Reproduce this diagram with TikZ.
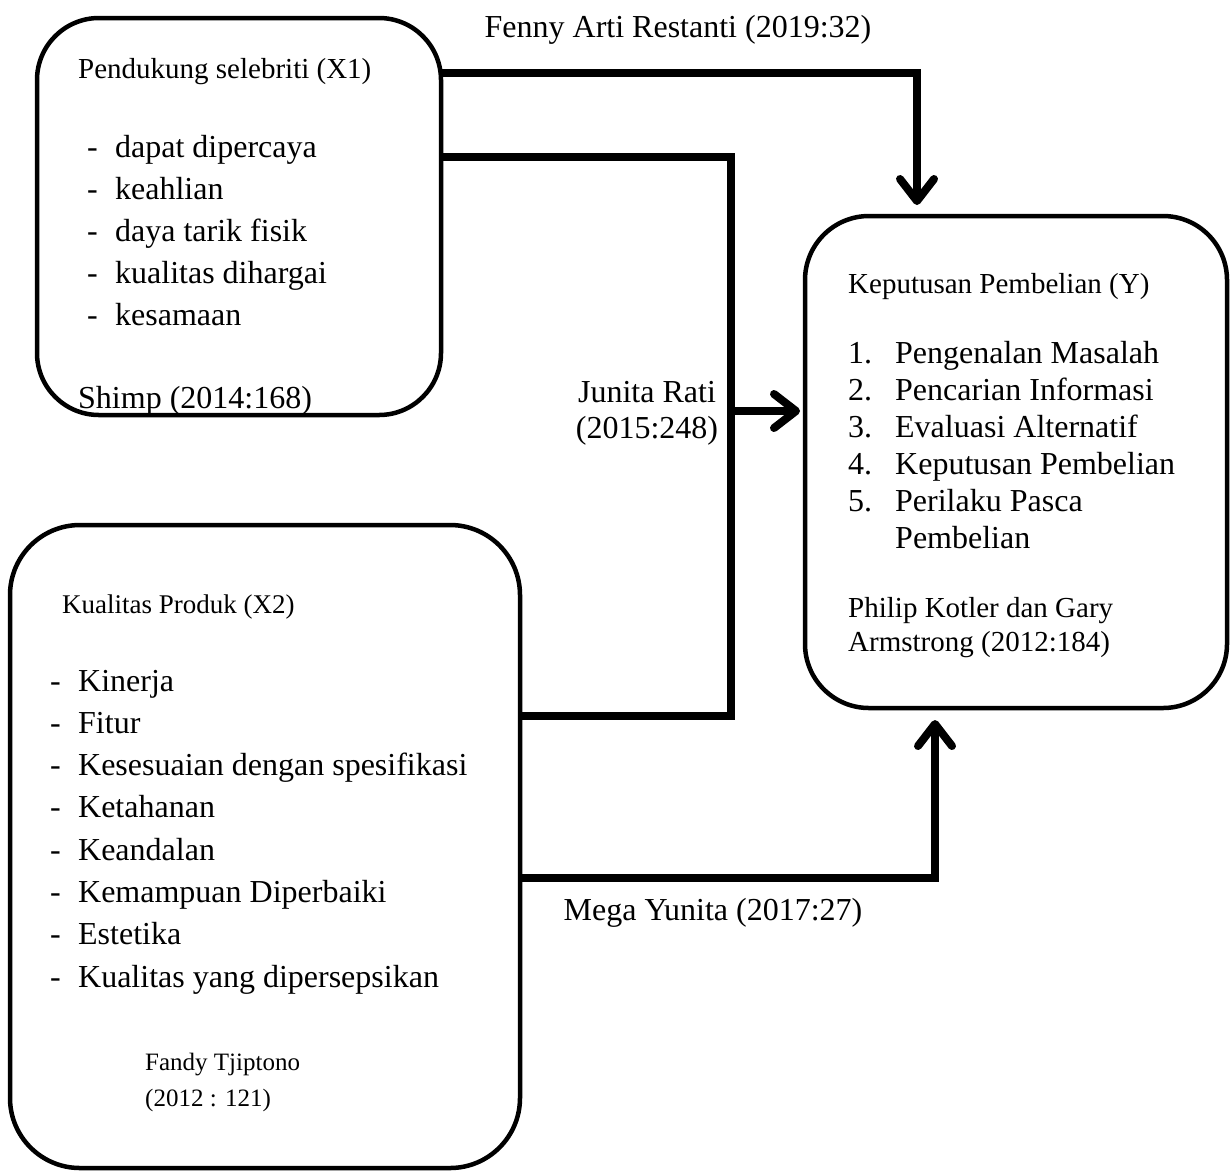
\documentclass[tikz,border=0pt]{standalone}
\usepackage{fontspec}
\setmainfont{Liberation Serif}
\usetikzlibrary{arrows.meta}
\tikzset{
  rbox/.style={draw, line width=4.5pt, rounded corners=#1, inner sep=0pt, outer sep=0pt},
  conn/.style={line width=8pt},
  tip/.style={-{Straight Barb[round,length=22pt,width=34pt]}},
  txt/.style={anchor=base west, inner sep=0pt, font=\fontsize{32}{42}\selectfont},
  ttl/.style={anchor=base west, inner sep=0pt, font=\fontsize{29}{34}\selectfont},
  lbl/.style={anchor=base, inner sep=0pt, font=\fontsize{32}{38}\selectfont}
}
\begin{document}
\begin{tikzpicture}[x=1pt,y=-1pt]
\useasboundingbox (0,0) rectangle (1230,1171);

% the three boxes
\node[rbox=62pt, minimum width=404pt, minimum height=397pt] (x1) at (239,216.5) {};
\node[rbox=70pt, minimum width=510pt, minimum height=643pt] (x2) at (265,846.5) {};
\node[rbox=64pt, minimum width=422pt, minimum height=492pt] (y) at (1016,462) {};

% X1
\node[ttl] (x1title) at (78,78) {Pendukung selebriti (X1)};
\node[txt] (x1list) at (87,157) {\begin{tabular}[t]{@{}p{28pt}@{}l@{}}
- & dapat dipercaya\\
- & keahlian\\
- & daya tarik fisik\\
- & kualitas dihargai\\
- & kesamaan
\end{tabular}};
\node[txt] (x1src) at (78,408) {Shimp (2014:168)};

% X2
\node[ttl, font=\fontsize{27}{34}\selectfont] (x2title) at (62,613) {Kualitas Produk (X2)};
\node[txt, font=\fontsize{32}{42.3}\selectfont] (x2list) at (50,691) {\begin{tabular}[t]{@{}p{28pt}@{}l@{}}
- & Kinerja\\
- & Fitur\\
- & Kesesuaian dengan spesifikasi\\
- & Ketahanan\\
- & Keandalan\\
- & Kemampuan Diperbaiki\\
- & Estetika\\
- & Kualitas yang dipersepsikan
\end{tabular}};
\node[txt, font=\fontsize{25}{36}\selectfont] (x2src) at (145,1070) {\begin{tabular}[t]{@{}l@{}}
Fandy Tjiptono\\
(2012 : 121)
\end{tabular}};

% Y
\node[ttl] (ytitle) at (848,293) {Keputusan Pembelian (Y)};
\node[txt, font=\fontsize{32}{37}\selectfont] (ylist) at (848,363) {\begin{tabular}[t]{@{}p{47pt}@{}l@{}}
1. & Pengenalan Masalah\\
2. & Pencarian Informasi\\
3. & Evaluasi Alternatif\\
4. & Keputusan Pembelian\\
5. & Perilaku Pasca\\
   & Pembelian
\end{tabular}};
\node[txt, font=\fontsize{29}{34}\selectfont] (ysrc) at (848,617) {\begin{tabular}[t]{@{}l@{}}
Philip Kotler dan Gary\\
Armstrong (2012:184)
\end{tabular}};

% connectors
\coordinate (jn) at (731,411);
\draw[conn,tip] ([yshift=143.5pt]x1.east) -| ([xshift=-99pt,yshift=11pt]y.north);
\draw[conn] ([yshift=59.5pt]x1.east) -| (jn) |- ([yshift=130.5pt]x2.east);
\draw[conn,tip] (jn) -- ([xshift=-5pt,yshift=51pt]y.west);
\draw[conn,tip] ([yshift=-31.5pt]x2.east) -| ([xshift=-81pt,yshift=-12pt]y.south);

% labels
\node[lbl] (fenny) at (678,37) {Fenny Arti Restanti (2019:32)};
\node[lbl] (junita) at (647,402) {Junita Rati};
\node[lbl] (junyear) at (647,438) {(2015:248)};
\node[lbl] (mega) at (713,920) {Mega Yunita (2017:27)};
\end{tikzpicture}
\end{document}
